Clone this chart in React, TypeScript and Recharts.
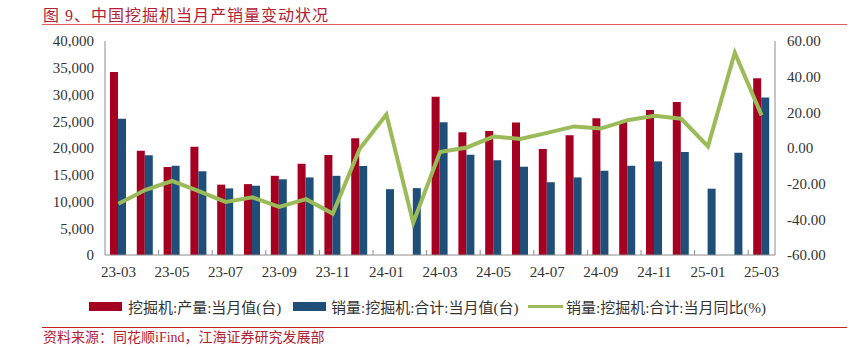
import { ComposedChart, Bar, Line, XAxis, YAxis } from 'recharts';

// months shown on the x axis
const months = [
  '23-03', '23-04', '23-05', '23-06', '23-07', '23-08', '23-09', '23-10', '23-11', '23-12',
  '24-01', '24-02', '24-03', '24-04', '24-05', '24-06', '24-07', '24-08', '24-09', '24-10',
  '24-11', '24-12', '25-01', '25-02', '25-03'
];

// 挖掘机:产量:当月值(台) – no data for Jan/Feb
const production = [
  34200, 19500, 16450, 20250, 13150, 13250, 14800, 17050, 18700, 21800,
  null, null, 29600, 22950, 23200, 24750, 19800, 22400, 25550, 25050,
  27100, 28600, null, null, 33050
];

// 销量:挖掘机:合计:当月值(台)
const sales = [
  25450, 18650, 16700, 15650, 12450, 12950, 14150, 14500, 14800, 16650,
  12300, 12500, 24800, 18750, 17700, 16500, 13600, 14500, 15750, 16700,
  17500, 19250, 12400, 19100, 29450
];

// 销量:挖掘机:合计:当月同比(%)
const salesYoY = [
  -31.3, -23.6, -18.5, -24.2, -30.2, -27.7, -33.0, -28.7, -36.8, -0.6,
  18.8, -41.9, -2.3, 0.3, 6.4, 5.1, 8.5, 12.1, 10.9, 15.6,
  18.1, 16.4, 0.9, 53.4, 18.3
];

const leftTicks = [0, 5000, 10000, 15000, 20000, 25000, 30000, 35000, 40000];
const rightTicks = [-60, -40, -20, 0, 20, 40, 60];

const data = months.map((m, i) => ({
  month: m,
  production: production[i],
  sales: sales[i],
  yoy: salesYoY[i]
}));

const RED = '#A50021';
const BLUE = '#1F4E79';
const GREEN = '#9BBB59';
const AXIS = '#8c8c8c';
const TEXT = '#333333';
const FONT = "'Liberation Serif', 'Times New Roman', 'Noto Sans CJK SC', serif";
const BAND = 670 / months.length;

const MonthTick = (props: any) => {
  const { x, y, index, payload } = props;
  if (index % 2 !== 0) return null;
  return (
    <g>
      {index > 0 && (
        <line x1={x - BAND / 2} x2={x - BAND / 2} y1={y} y2={y - 5} stroke={AXIS} />
      )}
      <text x={x} y={y + 17} dy="0.35em" textAnchor="middle" fill={TEXT} fontSize={15} fontFamily={FONT}>
        {payload.value}
      </text>
    </g>
  );
};

const legendText = { fontSize: 15, color: TEXT, fontFamily: FONT, whiteSpace: 'nowrap' as const };

export default function App() {
  return (
    <div style={{ position: 'absolute', left: 0, top: 0, width: 856, height: 348, overflow: 'hidden', background: '#fff', fontFamily: FONT }}>
      <div style={{ position: 'absolute', left: 43, top: 2, fontSize: 16, color: '#B22234', letterSpacing: 1, whiteSpace: 'nowrap' }}>
        图 9、中国挖掘机当月产销量变动状况
      </div>
      <div style={{ position: 'absolute', left: 42, top: 24, width: 805, height: 1, background: '#E05A5F' }} />

      <ComposedChart
        width={856}
        height={348}
        data={data}
        margin={{ top: 41, right: 0, bottom: 63, left: 0 }}
        barGap={0}
      >
        <XAxis
          dataKey="month"
          interval={0}
          tickSize={0}
          tickMargin={0}
          height={30}
          tick={<MonthTick />}
          axisLine={{ stroke: AXIS }}
          tickLine={false}
        />
        <YAxis
          yAxisId="left"
          width={105}
          domain={[0, 40000]}
          ticks={leftTicks}
          tickFormatter={(v: number) => v.toLocaleString('en-US')}
          tick={{ fontSize: 15, fill: TEXT, fontFamily: FONT }}
          tickSize={0}
          tickMargin={11}
          axisLine={{ stroke: AXIS }}
          tickLine={false}
        />
        <YAxis
          yAxisId="right"
          orientation="right"
          width={81}
          domain={[-60, 60]}
          ticks={rightTicks}
          tickFormatter={(v: number) => v.toFixed(2)}
          tick={{ fontSize: 15, fill: TEXT, fontFamily: FONT, textAnchor: 'start' }}
          tickSize={0}
          tickMargin={12}
          axisLine={{ stroke: AXIS }}
          tickLine={false}
        />
        <Bar yAxisId="left" dataKey="production" fill={RED} barSize={8} isAnimationActive={false} />
        <Bar yAxisId="left" dataKey="sales" fill={BLUE} barSize={8} isAnimationActive={false} />
        <Line
          yAxisId="right"
          dataKey="yoy"
          type="linear"
          stroke={GREEN}
          strokeWidth={4}
          dot={false}
          isAnimationActive={false}
        />
      </ComposedChart>

      {/* legend */}
      <div style={{ position: 'absolute', left: 89, top: 302, width: 33, height: 9, background: RED }} />
      <div style={{ ...legendText, position: 'absolute', left: 128, top: 296 }}>挖掘机:产量:当月值(台)</div>
      <div style={{ position: 'absolute', left: 293, top: 302, width: 33, height: 9, background: BLUE }} />
      <div style={{ ...legendText, position: 'absolute', left: 331, top: 296 }}>销量:挖掘机:合计:当月值(台)</div>
      <div style={{ position: 'absolute', left: 528, top: 305, width: 35, height: 3, background: GREEN }} />
      <div style={{ ...legendText, position: 'absolute', left: 566, top: 296 }}>销量:挖掘机:合计:当月同比(%)</div>

      <div style={{ position: 'absolute', left: 42, top: 327, width: 805, height: 1, background: '#C8202A' }} />
      <div style={{ position: 'absolute', left: 43, top: 329, fontSize: 14, lineHeight: '17px', color: '#B22234', whiteSpace: 'nowrap' }}>
        资料来源：同花顺iFind，江海证券研究发展部
      </div>
    </div>
  );
}
